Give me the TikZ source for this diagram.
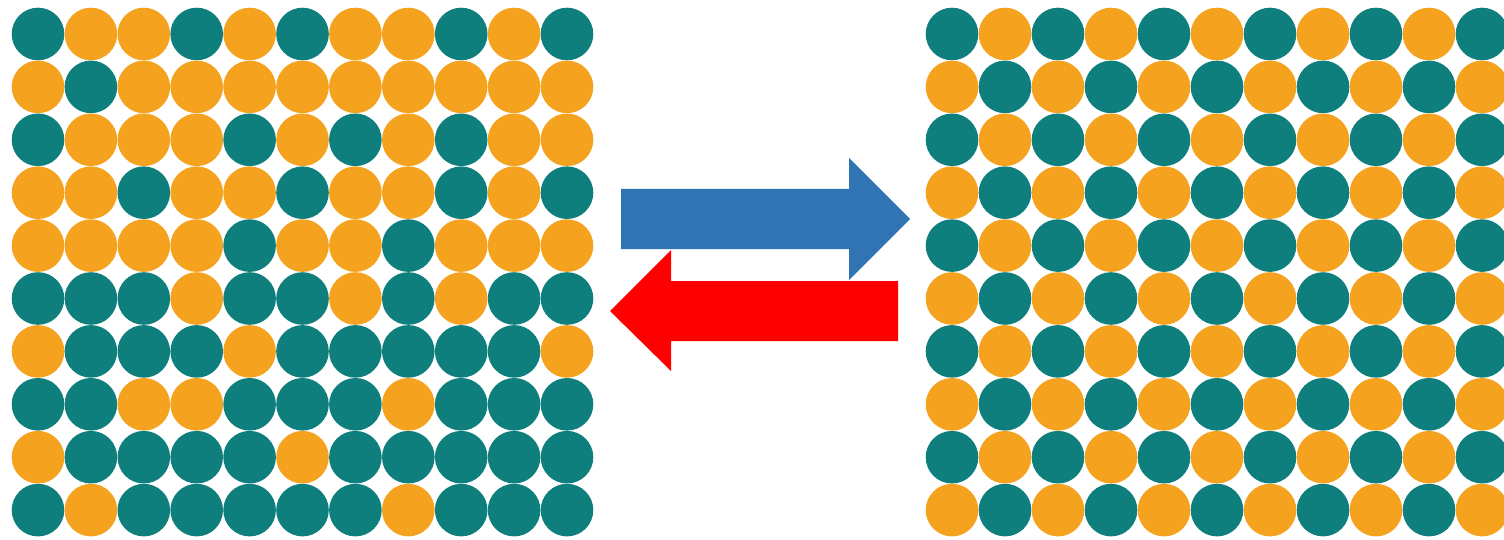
\documentclass[tikz,border=0pt]{standalone}
\definecolor{cT}{HTML}{0F7F7D}
\definecolor{cO}{HTML}{F5A21F}
\definecolor{arrowblue}{HTML}{3174B4}
\definecolor{arrowred}{HTML}{FF0000}
\begin{document}
\begin{tikzpicture}[x=1pt,y=-1pt]
\useasboundingbox (0,0) rectangle (1504,540);
\fill[white] (0,0) rectangle (1504,540);

% mixed grid: T = teal, O = orange
\foreach \row [count=\r from 0] in {
  {T,O,O,T,O,T,O,O,T,O,T},
  {O,T,O,O,O,O,O,O,O,O,O},
  {T,O,O,O,T,O,T,O,T,O,O},
  {O,O,T,O,O,T,O,O,T,O,T},
  {O,O,O,O,T,O,O,T,O,O,O},
  {T,T,T,O,T,T,O,T,O,T,T},
  {O,T,T,T,O,T,T,T,T,T,O},
  {T,T,O,O,T,T,T,O,T,T,T},
  {O,T,T,T,T,O,T,T,T,T,T},
  {T,O,T,T,T,T,T,O,T,T,T}} {
  \foreach \v [count=\c from 0] in \row {
    \fill[c\v] (38+52.9*\c, 34+52.9*\r) circle (26.3);
  }
}

% ordered grid: checkerboard
\foreach \c in {0,...,10} {
  \foreach \r in {0,...,9} {
    \pgfmathtruncatemacro\p{mod(\c+\r,2)}
    \ifnum\p=0 \def\col{cT}\else\def\col{cO}\fi
    \fill[\col] (952+53*\c, 34+52.9*\r) circle (26.3);
  }
}

% forward and backward block arrows
\fill[arrowblue] (621,189) -- (849,189) -- (849,158) -- (910,219)
  -- (849,280) -- (849,249) -- (621,249) -- cycle;
\fill[arrowred] (898,281) -- (671,281) -- (671,250) -- (610,311)
  -- (671,371) -- (671,341) -- (898,341) -- cycle;
\end{tikzpicture}
\end{document}
